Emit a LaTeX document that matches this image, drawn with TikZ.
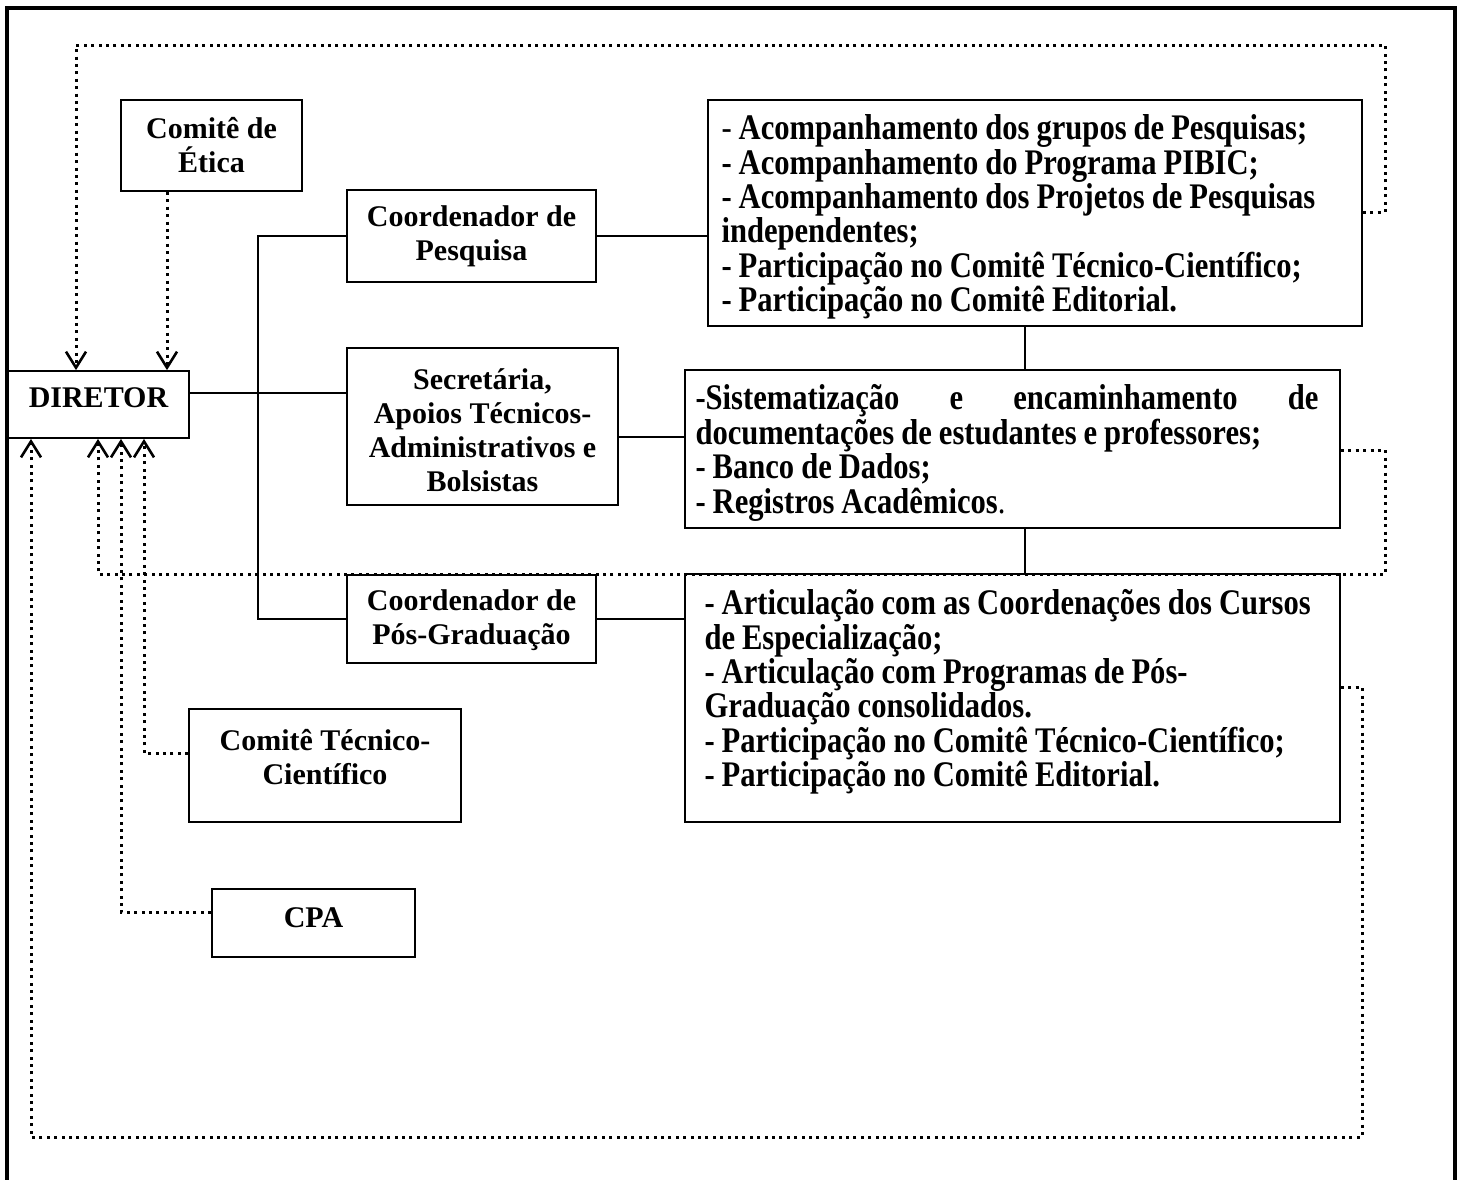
\documentclass[tikz,border=0pt]{standalone}
\usepackage{fontspec}
\setmainfont{Liberation Serif}
\newfontfamily\lstfont[FakeStretch=0.85]{Liberation Serif}
\newcommand\mylstspace{\spaceskip=3.5pt plus 1pt minus 0.5pt\relax}
\usetikzlibrary{arrows.meta}
\tikzset{
  bx/.style={draw, line width=0.9pt, inner sep=0pt},
  txt/.style={font=\fontsize{15pt}{17pt}\selectfont\bfseries, align=center, inner sep=0pt},
  lst/.style={txt, font=\lstfont\fontsize{18pt}{17.2pt}\selectfont\bfseries, align=left, anchor=west, execute at begin node={\mylstspace}},
  dotln/.style={line width=1.5pt, dash pattern=on 1.5pt off 2.2pt},
  arr/.style={-{Straight Barb[length=8pt,width=10pt,line width=1.3pt]}},
  sln/.style={line width=0.75pt},
  frm/.style={line width=1.7pt}
}
\begin{document}
\begin{tikzpicture}[x=0.5pt,y=-0.5pt]
\useasboundingbox (0,0) rectangle (1463,1179);
% outer frame
\draw[frm] (7,1195) -- (7,8) -- (1455,8) -- (1455,1195);

% boxes
\node[bx, minimum width=90.5pt, minimum height=45.5pt,
  label={[txt]center:Comitê de\\Ética}] (etica) at (211.5,145.5) {};
\node[bx, minimum width=90.5pt, minimum height=33.5pt,
  label={[txt,yshift=3.25pt]center:DIRETOR}] (diretor) at (98.5,404.5) {};
\node[bx, minimum width=124.5pt, minimum height=46pt,
  label={[txt]center:Coordenador de\\Pesquisa}] (pesq) at (471.5,236) {};
\node[bx, minimum width=135.5pt, minimum height=78.5pt,
  label={[txt,yshift=-1.75pt]center:Secretária,\\Apoios Técnicos-\\Administrativos e\\Bolsistas}] (sec) at (482.5,426.5) {};
\node[bx, minimum width=124.5pt, minimum height=44pt,
  label={[txt,yshift=-0.5pt]center:Coordenador de\\Pós-Graduação}] (pos) at (471.5,619) {};
\node[bx, minimum width=136pt, minimum height=56.5pt,
  label={[txt,yshift=4.25pt]center:Comitê Técnico-\\Científico}] (ctc) at (325,765.5) {};
\node[bx, minimum width=101.5pt, minimum height=34pt,
  label={[txt,yshift=2.5pt]center:CPA}] (cpa) at (313.5,923) {};

\node[bx, minimum width=327pt, minimum height=113pt,
  label={[lst,text width=318pt,xshift=7pt,yshift=-2pt]west:{\mdseries -} Acompanhamento dos grupos de Pesquisas;\\- Acompanhamento do Programa PIBIC;\\- Acompanhamento dos Projetos de Pesquisas\\independentes;\\- Participação no Comitê Técnico-Científico;\\- Participação no Comitê Editorial.}] (lpesq) at (1035,213) {};
\node[bx, minimum width=327.5pt, minimum height=79pt,
  label={[lst,text width=311.5pt,xshift=5.5pt,yshift=-2pt]west:-Sistematização\hfill e\hfill encaminhamento\hfill de\\documentações de estudantes e professores;\\- Banco de Dados;\\- Registros Acadêmicos{\mdseries .}}] (lsec) at (1012.5,449) {};
\node[bx, minimum width=327.5pt, minimum height=124pt,
  label={[lst,text width=318pt,xshift=10pt,yshift=3pt]west:- Articulação com as Coordenações dos Cursos\\de Especialização;\\- Articulação com Programas de Pós-\\Graduação consolidados.\\- Participação no Comitê Técnico-Científico;\\- Participação no Comitê Editorial.}] (lpos) at (1012.5,698) {};

% solid connectors
\draw[sln] (diretor.east |- 0,393) -- (sec.west |- 0,393);
\draw[sln] (pesq.west) -- (258,0 |- pesq.west) -- (258,0 |- pos.west) -- (pos.west);
\draw[sln] (pesq.east) -- (lpesq.west |- pesq.east);
\draw[sln] (sec.east |- 0,437) -- (lsec.west |- 0,437);
\draw[sln] (pos.east) -- (lpos.west |- pos.east);
\draw[sln] (1025,0 |- lpesq.south) -- (1025,0 |- lsec.north);
\draw[sln] (1025,0 |- lsec.south) -- (1025,0 |- lpos.north);

% dotted connectors
\draw[dotln,arr] (lpesq.east |- 0,212) -- (1385,212) -- (1385,45) -- (76,45) -- (76,0 |- diretor.north);
\draw[dotln,arr] (167,0 |- etica.south) -- (167,0 |- diretor.north);
\draw[dotln,arr] (lsec.east |- 0,450) -- (1385,450) -- (1385,574) -- (98,574) -- (98,0 |- diretor.south);
\draw[dotln,arr] (ctc.west |- 0,753) -- (144,753) -- (144,0 |- diretor.south);
\draw[dotln,arr] (cpa.west |- 0,912) -- (121,912) -- (121,0 |- diretor.south);
\draw[dotln,arr] (lpos.east |- 0,687) -- (1362,687) -- (1362,1137) -- (31,1137) -- (31,0 |- diretor.south);
\end{tikzpicture}
\end{document}
